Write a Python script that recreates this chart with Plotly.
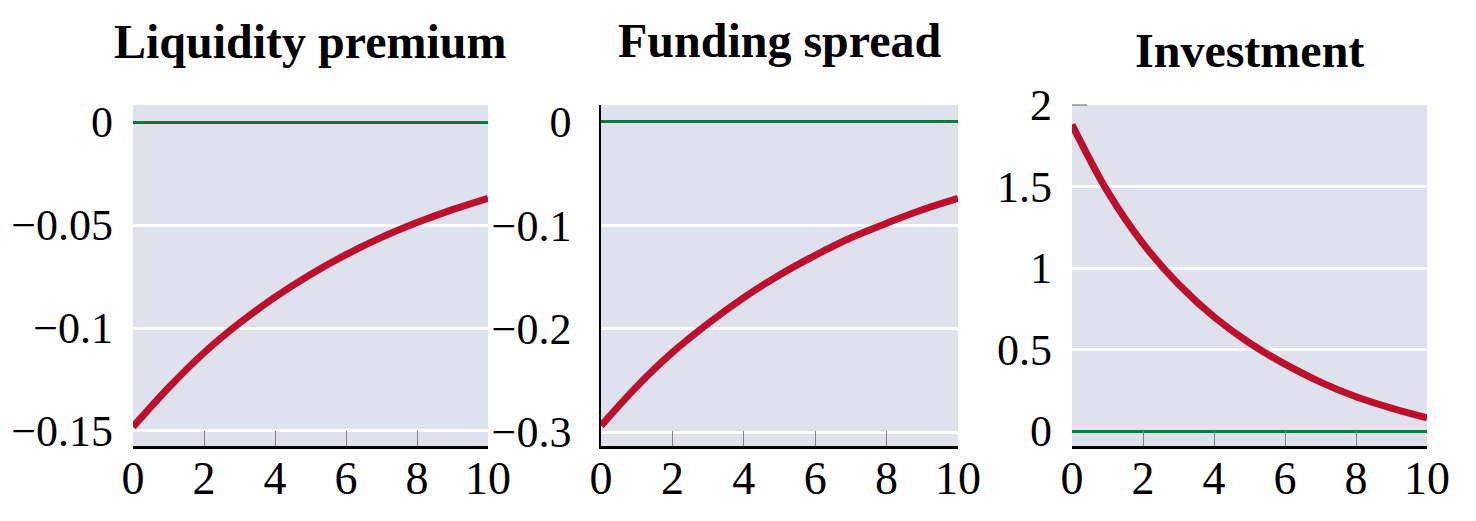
import plotly.graph_objects as go

# Impulse responses (periods 0..10)
periods = [0, 1, 2, 3, 4, 5, 6, 7, 8, 9, 10]
liquidity_premium = [-0.148, -0.129, -0.112, -0.0976, -0.085, -0.074, -0.0644, -0.056, -0.0488, -0.0425, -0.037]
funding_spread = [-0.294, -0.256, -0.223, -0.195, -0.170, -0.148, -0.129, -0.112, -0.098, -0.085, -0.074]
investment = [1.88, 1.47, 1.15, 0.90, 0.70, 0.54, 0.41, 0.30, 0.21, 0.14, 0.08]

titles = ["Liquidity premium", "Funding spread", "Investment"]
x_ticks = [0, 2, 4, 6, 8, 10]

# window is 1476x521, the page body adds an 8px margin round the figure
WIN_W, WIN_H, OFF = 1476, 521, 8
W, H = WIN_W - 2 * OFF, WIN_H - 2 * OFF
RED = "#BE0E2E"
GREEN = "#067A40"
BG = "#DFE1EC"
FONT = "Liberation Serif"


def px_x(x):
    return (x - OFF) / W


def px_y(y):
    return 1 - (y - OFF) / H


# pixel boxes of the three plot areas in the window: (left, right, top, bottom)
boxes = [(133, 488, 105, 446), (601, 958, 105, 446), (1072, 1427, 105, 446)]
y_ranges = [[-0.1573, 0.0083], [-0.3135, 0.0164], [-0.092, 2.0]]
y_dticks = [0.05, 0.1, 0.5]
title_y_px = [41, 40, 51]

fig = go.Figure()
series = [liquidity_premium, funding_spread, investment]

for i, (vals, box) in enumerate(zip(series, boxes)):
    n = "" if i == 0 else str(i + 1)
    left, right, top, bottom = box
    fig.add_trace(go.Scatter(x=periods, y=vals, mode="lines", line_shape="spline",
                             line=dict(color=RED, width=7), xaxis="x" + n, yaxis="y" + n,
                             showlegend=False, hoverinfo="skip"))
    fig.layout["xaxis" + n] = dict(
        domain=[px_x(left), px_x(right)], anchor="y" + n, range=[0, 10], automargin=False,
        tickvals=x_ticks, ticks="inside", ticklen=15, tickwidth=1.3, tickcolor="#808080",
        showgrid=False, zeroline=False, showline=True, linecolor="black", linewidth=2.5,
        tickfont=dict(family=FONT, size=46, color="black"), ticklabelstandoff=-10,
    )
    fig.layout["yaxis" + n] = dict(
        domain=[px_y(bottom), px_y(top)], anchor="x" + n, range=y_ranges[i], automargin=False,
        tick0=0, dtick=y_dticks[i], ticks="", showgrid=True, gridcolor="white", gridwidth=2.5,
        zeroline=True, zerolinecolor=GREEN, zerolinewidth=2.5,
        showline=(i == 1), linecolor="black", linewidth=1.5,
        tickfont=dict(family=FONT, size=44, color="black"), ticklabelstandoff=19,
    )
    fig.add_annotation(text="<b>" + titles[i] + "</b>", xref="paper", yref="paper",
                       x=px_x((left + right) / 2), y=px_y(title_y_px[i]),
                       xanchor="center", yanchor="middle", showarrow=False,
                       font=dict(family=FONT, size=48, color="black"))

# small grey tick at the top-left corner of the investment panel
fig.add_shape(type="line", xref="x3 domain", yref="y3 domain", x0=0, x1=0.042, y0=1, y1=1,
              line=dict(color="#808080", width=1.3))

fig.update_layout(width=W, height=H, margin=dict(l=0, r=0, t=0, b=0, autoexpand=False),
                  paper_bgcolor="white", plot_bgcolor=BG)

fig.write_html("out.html")
